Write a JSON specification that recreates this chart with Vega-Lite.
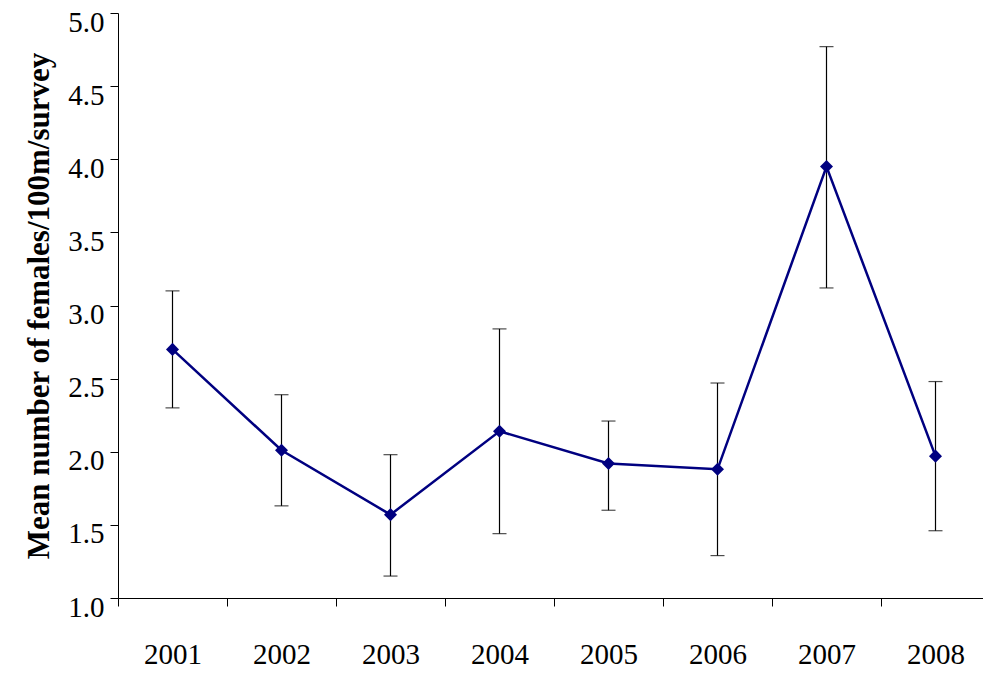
{
  "$schema": "https://vega.github.io/schema/vega-lite/v6.json",
  "autosize": "none",
  "width": 872,
  "height": 585,
  "padding": {"left": 118, "top": 13, "right": 0, "bottom": 75},
  "config": {"view": {"stroke": null}, "font": "Liberation Serif", "axis": {"labelFont": "Liberation Serif", "titleFont": "Liberation Serif"}},
  "data": {"values": [
    {"year": "2001", "mean": 2.70, "hi": 3.10, "lo": 2.30},
    {"year": "2002", "mean": 2.01, "hi": 2.39, "lo": 1.63},
    {"year": "2003", "mean": 1.57, "hi": 1.98, "lo": 1.15},
    {"year": "2004", "mean": 2.14, "hi": 2.84, "lo": 1.44},
    {"year": "2005", "mean": 1.92, "hi": 2.21, "lo": 1.60},
    {"year": "2006", "mean": 1.88, "hi": 2.47, "lo": 1.29},
    {"year": "2007", "mean": 3.95, "hi": 4.77, "lo": 3.12},
    {"year": "2008", "mean": 1.97, "hi": 2.48, "lo": 1.46}
  ]},
  "encoding": {
    "x": {"field": "year", "type": "ordinal", "scale": {"paddingInner": 0, "paddingOuter": 0},
      "axis": {"title": null, "labelAngle": 0, "tickBand": "extent", "labelFontSize": 29, "labelColor": "black", "labelPadding": 34, "tickSize": 8, "domainColor": "black", "tickColor": "black"}}
  },
  "layer": [
    {"mark": {"type": "rule", "color": "black", "strokeWidth": 1.2},
      "encoding": {"y": {"field": "lo", "type": "quantitative"}, "y2": {"field": "hi"}}},
    {"mark": {"type": "tick", "color": "black", "orient": "horizontal", "size": 14, "thickness": 1.2},
      "encoding": {"y": {"field": "lo", "type": "quantitative"}}},
    {"mark": {"type": "tick", "color": "black", "orient": "horizontal", "size": 14, "thickness": 1.2},
      "encoding": {"y": {"field": "hi", "type": "quantitative"}}},
    {"mark": {"type": "line", "color": "#000080", "strokeWidth": 2.5, "point": {"shape": "diamond", "size": 170, "filled": true, "color": "#000080", "opacity": 1}},
      "encoding": {"y": {"field": "mean", "type": "quantitative", "scale": {"domain": [1, 5], "nice": false, "zero": false},
        "axis": {"title": "Mean number of females/100m/survey", "titleFontSize": 31, "titleFontWeight": "bold", "titleColor": "black", "titlePadding": 12,
          "values": [1, 1.5, 2, 2.5, 3, 3.5, 4, 4.5, 5], "format": ".1f", "grid": false, "labelFontSize": 29, "labelColor": "black", "labelOffset": 9, "labelFlush": false, "tickSize": 8, "domainColor": "black", "tickColor": "black", "labelPadding": 6}}}}
  ]
}
